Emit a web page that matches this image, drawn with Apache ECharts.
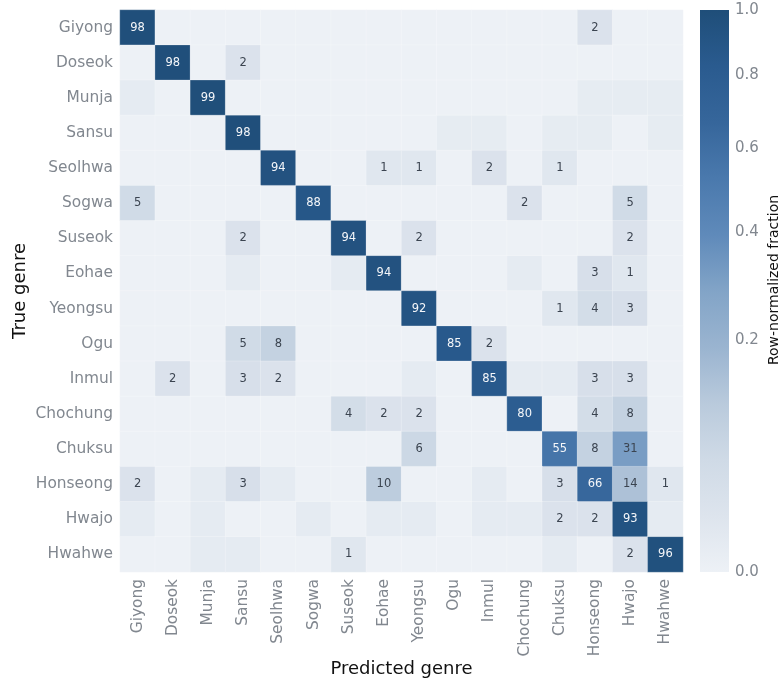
<!DOCTYPE html>
<html>
<head>
<meta charset="utf-8">
<script src="https://cdn.jsdelivr.net/npm/echarts@6/dist/echarts.min.js"></script>
<style>
html,body{margin:0;padding:0;background:#fff;}
#chart{width:784px;height:683px;}
</style>
</head>
<body>
<div id="chart"></div>
<script>
const genres = ["Giyong","Doseok","Munja","Sansu","Seolhwa","Sogwa","Suseok","Eohae","Yeongsu","Ogu","Inmul","Chochung","Chuksu","Honseong","Hwajo","Hwahwe"];

// Row-normalized percentages (rows: true genre, columns: predicted genre)
const rowGiyong   = [98,0,0,0,0,0,0,0,0,0,0,0,0,2,0,0];
const rowDoseok   = [0,98,0,2,0,0,0,0,0,0,0,0,0,0,0,0];
const rowMunja    = [0.4,0,99,0,0,0,0,0,0,0,0,0,0,0.3,0.3,0.3];
const rowSansu    = [0,0,0,98,0,0,0,0,0,0.3,0.3,0,0.3,0.3,0,0.3];
const rowSeolhwa  = [0,0,0,0,94,0,0,1,1,0,2,0,1,0,0,0];
const rowSogwa    = [5,0,0,0,0,88,0,0,0,0,0,2,0,0,5,0];
const rowSuseok   = [0,0,0,2,0,0,94,0,2,0,0,0,0,0,2,0];
const rowEohae    = [0,0,0,0.4,0,0,0.4,94,0,0,0,0.4,0,3,1,0];
const rowYeongsu  = [0,0,0,0,0,0,0,0,92,0,0,0,1,4,3,0];
const rowOgu      = [0,0,0,5,8,0,0,0,0,85,2,0,0,0,0,0];
const rowInmul    = [0,2,0,3,2,0,0,0,0.4,0,85,0.4,0.4,3,3,0];
const rowChochung = [0,0,0,0,0,0,4,2,2,0,0,80,0,4,8,0];
const rowChuksu   = [0,0,0,0,0,0,0,0,6,0,0,0,55,8,31,0];
const rowHonseong = [2,0,0.4,3,0.4,0,0,10,0,0,0.4,0,3,66,14,1];
const rowHwajo    = [0.4,0,0.4,0,0,0.4,0,0.4,0.4,0,0.4,0.4,2,2,93,0.4];
const rowHwahwe   = [0,0,0.4,0.4,0,0,1,0,0,0,0,0,0.4,0,2,96];

const matrixRows = [rowGiyong,rowDoseok,rowMunja,rowSansu,rowSeolhwa,rowSogwa,rowSuseok,rowEohae,rowYeongsu,rowOgu,rowInmul,rowChochung,rowChuksu,rowHonseong,rowHwajo,rowHwahwe];

const colorbarTicks = [0.0, 0.2, 0.4, 0.6, 0.8, 1.0];
const colorbarRange = [1.0];

const gamma = 0.55;
const cmap = ["#edf1f6","#dde4ed","#cfdae6","#b9cadc","#9ab4d0","#82a4c7","#5f8aba","#4a79ad","#36669b","#2a5b8f","#1f4e79"];

const fwd = v => Math.pow(v, gamma);
const inv = t => Math.pow(t, 1 / gamma);

const heatData = [];
matrixRows.forEach((row, yi) => {
  row.forEach((pct, xi) => {
    const frac = pct / 100;
    heatData.push([xi, yi, fwd(frac), frac]);
  });
});

const gradStops = cmap.map((c, i) => ({offset: 1 - i / (cmap.length - 1), color: c}));

const FONT = "DejaVu Sans";
const GRAY = "#81878f";

const chart = echarts.init(document.getElementById('chart'), null, {renderer: 'canvas'});
chart.setOption({
  backgroundColor: '#ffffff',
  animation: false,
  textStyle: {fontFamily: FONT},
  grid: [
    {left: 120, top: 10, width: 563, height: 562, containLabel: false, outerBoundsMode: 'none'},
    {left: 700, top: 10, width: 29, height: 562, containLabel: false, outerBoundsMode: 'none'}
  ],
  xAxis: [
    {
      type: 'category', data: genres, gridIndex: 0, position: 'bottom',
      axisLine: {show: false}, axisTick: {show: false}, splitArea: {show: false}, splitLine: {show: false},
      axisLabel: {rotate: 90, color: GRAY, fontSize: 15.4, fontFamily: FONT, margin: 7},
      name: 'Predicted genre', nameLocation: 'middle', nameGap: 88, nameMoveOverlap: false,
      nameTextStyle: {color: '#111', fontSize: 18, fontFamily: FONT}
    },
    {
      type: 'category', data: ['cb'], gridIndex: 1, show: false
    }
  ],
  yAxis: [
    {
      type: 'category', data: genres, gridIndex: 0, inverse: true,
      axisLine: {show: false}, axisTick: {show: false}, splitArea: {show: false}, splitLine: {show: false},
      axisLabel: {color: GRAY, fontSize: 15.4, fontFamily: FONT, margin: 7},
      name: 'True genre', nameLocation: 'middle', nameGap: 91, nameRotate: 90, nameMoveOverlap: false,
      nameTextStyle: {color: '#111', fontSize: 18, fontFamily: FONT}
    },
    {
      type: 'value', gridIndex: 1, min: 0, max: 1, position: 'right',
      axisLine: {show: false}, splitLine: {show: false},
      axisTick: {show: false, customValues: colorbarTicks.map(fwd)},
      axisLabel: {
        color: GRAY, fontSize: 15, fontFamily: FONT, margin: 6,
        customValues: colorbarTicks.map(fwd),
        formatter: v => inv(v).toFixed(1)
      },
      name: 'Row-normalized fraction', nameLocation: 'middle', nameGap: 38, nameRotate: 90,
      nameTextStyle: {color: '#111', fontSize: 14, fontFamily: FONT, padding: [0, 0, 0, 22]}
    }
  ],
  visualMap: {
    show: false, type: 'continuous', min: 0, max: 1, dimension: 2, seriesIndex: 0,
    inRange: {color: cmap}
  },
  series: [
    {
      type: 'heatmap', xAxisIndex: 0, yAxisIndex: 0, data: heatData,
      itemStyle: {borderColor: 'rgba(255,255,255,0.3)', borderWidth: 0.8},
      label: {
        show: true,
        formatter: p => {
          const v = p.data[3];
          const r = Math.round(v * 100);
          if (r < 1) return '';
          return v >= 0.5 ? '{w|' + r + '}' : '{d|' + r + '}';
        },
        rich: {
          w: {color: '#f4f6f9', fontSize: 11.5, fontFamily: FONT},
          d: {color: '#3b4450', fontSize: 11.5, fontFamily: FONT}
        }
      },
      emphasis: {disabled: true}
    },
    {
      type: 'bar', xAxisIndex: 1, yAxisIndex: 1, data: colorbarRange, barWidth: '100%',
      itemStyle: {color: new echarts.graphic.LinearGradient(0, 0, 0, 1, gradStops.slice().reverse())},
      silent: true
    }
  ]
});
</script>
</body>
</html>
